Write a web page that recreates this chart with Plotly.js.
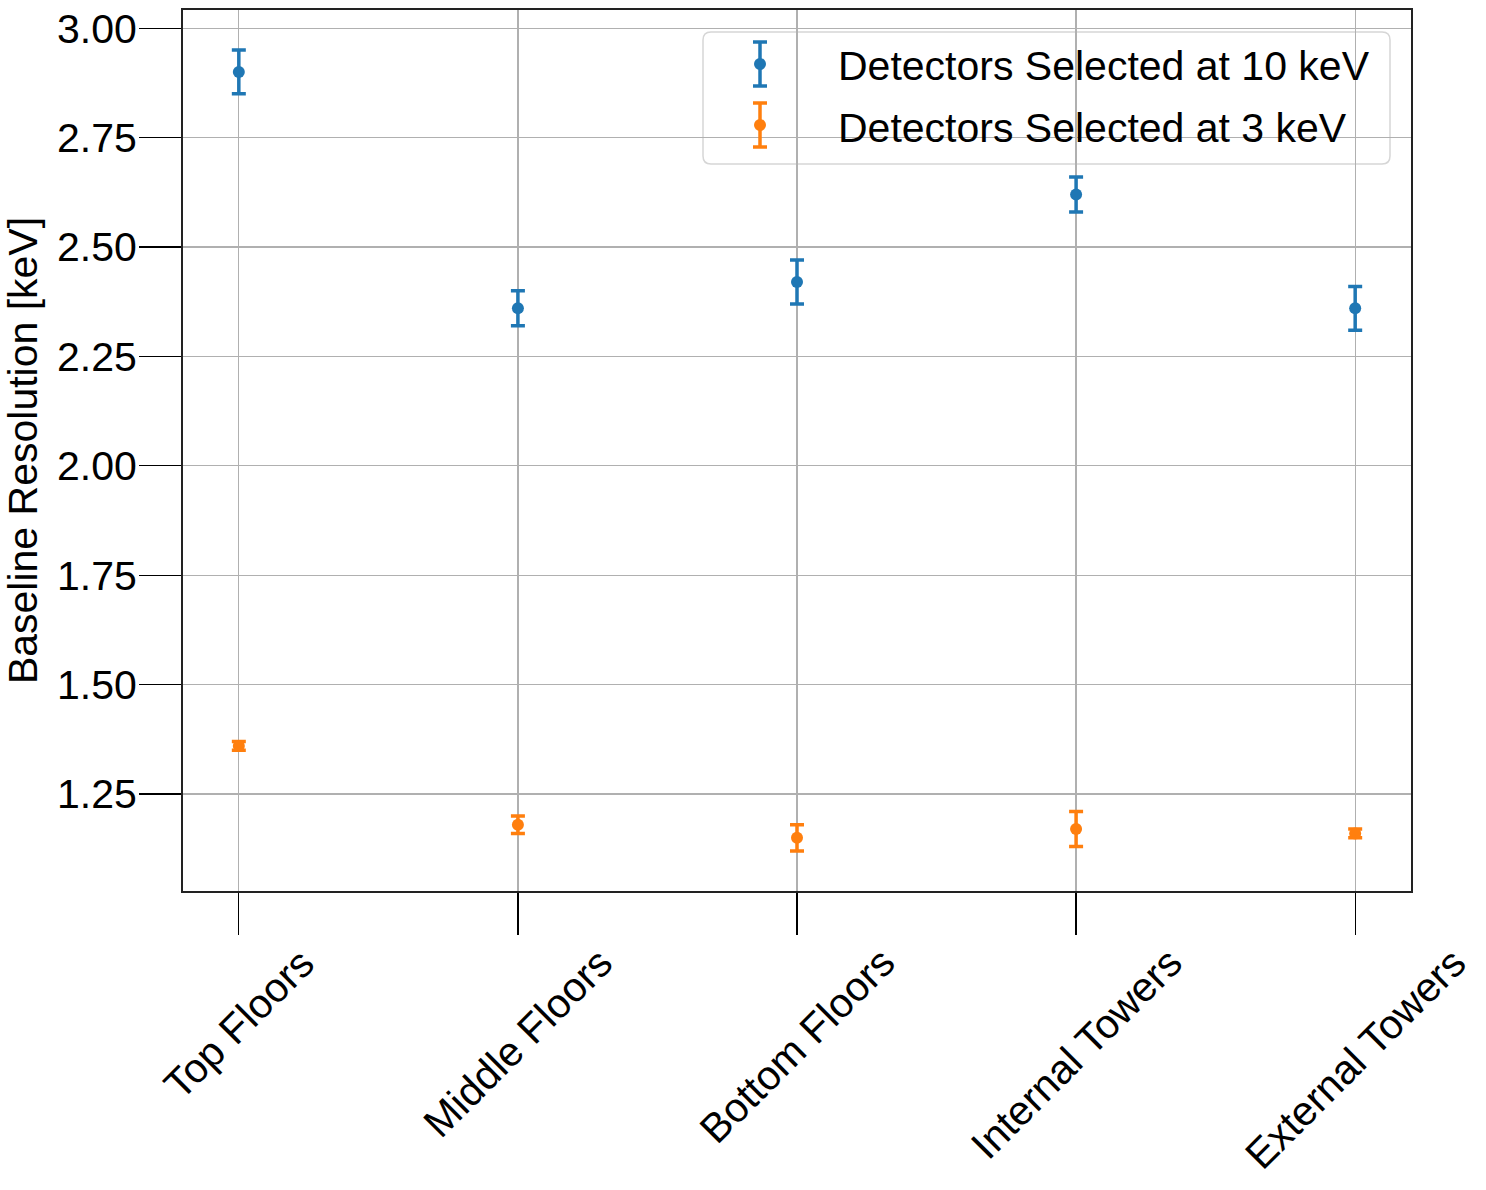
<!DOCTYPE html>
<html>
<head>
<meta charset="utf-8">
<script src="https://cdn.plot.ly/plotly-3.0.1.min.js"></script>
<style>
  body { margin: 0; background: #fff; }
  #chart { width: 1486px; height: 1190px; }
</style>
</head>
<body>
<div id="chart"></div>
<script>
// Baseline resolution per detector group

const categories = ["Top Floors", "Middle Floors", "Bottom Floors", "Internal Towers", "External Towers"];
const seriesNames = ["Detectors Selected at 10 keV", "Detectors Selected at 3 keV"];
const res10 = [2.90, 2.36, 2.42, 2.62, 2.36];
const err10 = [0.05, 0.04, 0.05, 0.04, 0.05];
const res3 = [1.36, 1.18, 1.15, 1.17, 1.16];
const err3 = [0.01, 0.02, 0.03, 0.04, 0.01];
const colors = ["#1f77b4", "#ff7f0e"];

const W = 1486, H = 1190;
const margin = { l: 183, r: 75, t: 10, b: 299 };
const plotW = W - margin.l - margin.r,
	plotH = H - margin.t - margin.b;

// pixel -> paper helpers (used for the hand-drawn legend only)
const px = (p) => (p - margin.l) / plotW;
const py = (p) => (H - margin.b - p) / plotH;

const FONT = "Liberation Sans, Arial, Helvetica, sans-serif";

function errTrace(y, err, name, color) {
	return {
		x: categories,
		y: y,
		type: "scatter",
		mode: "markers",
		name: name,
		marker: { color: color, size: 12 },
		error_y: { type: "data", array: err, visible: true, color: color, thickness: 3.5, width: 7 },
		showlegend: false,
	};
}

let data = [
		errTrace(res10, err10, seriesNames[0], colors[0]),
		errTrace(res3, err3, seriesNames[1], colors[1]),
	];

// x tick labels, rotated and centred under each tick like matplotlib
let annotations = categories.map((c) => ({
	x: c,
	xref: "x",
	y: 0,
	yref: "paper",
	yanchor: "top",
	xanchor: "center",
	yshift: -46,
	textangle: -45,
	showarrow: false,
	text: c,
	font: { family: FONT, size: 41, color: "#000" },
}));

// legend: rounded box, errorbar glyph, label
let shapes = [];
const bx0 = px(703), bx1 = px(1390), by0 = py(164), by1 = py(32);
const rx = 8 / plotW, ry = 8 / plotH;
shapes.push({
	type: "path",
	xref: "paper",
	yref: "paper",
	layer: "between",
	path:
		`M ${bx0 + rx},${by1} L ${bx1 - rx},${by1} Q ${bx1},${by1} ${bx1},${by1 - ry} ` +
		`L ${bx1},${by0 + ry} Q ${bx1},${by0} ${bx1 - rx},${by0} ` +
		`L ${bx0 + rx},${by0} Q ${bx0},${by0} ${bx0},${by0 + ry} ` +
		`L ${bx0},${by1 - ry} Q ${bx0},${by1} ${bx0 + rx},${by1} Z`,
	fillcolor: "rgba(255,255,255,0.8)",
	line: { color: "#d6d6d6", width: 1.5 },
});

seriesNames.forEach((name, i) => {
	const cx = 760,
		cy = 64 + 61 * i,
		half = 22,
		cap = 7,
		r = 6,
		col = colors[i];
	const ln = (x0, y0, x1, y1) => ({
		type: "line",
		xref: "paper",
		yref: "paper",
		layer: "above",
		x0: px(x0),
		y0: py(y0),
		x1: px(x1),
		y1: py(y1),
		line: { color: col, width: 3.5 },
	});
	shapes.push(ln(cx, cy - half, cx, cy + half));
	shapes.push(ln(cx - cap, cy - half, cx + cap, cy - half));
	shapes.push(ln(cx - cap, cy + half, cx + cap, cy + half));
	shapes.push({
		type: "circle",
		xref: "paper",
		yref: "paper",
		layer: "above",
		x0: px(cx - r),
		x1: px(cx + r),
		y0: py(cy + r),
		y1: py(cy - r),
		fillcolor: col,
		line: { width: 0 },
	});
	annotations.push({
		x: px(836),
		xref: "paper",
		y: py(66 + 62 * i),
		yref: "paper",
		xanchor: "left",
		yanchor: "middle",
		showarrow: false,
		text: name,
		font: { family: FONT, size: 41, color: "#000" },
	});
});

let layout = {
	width: W,
	height: H,
	margin: margin,
	paper_bgcolor: "#ffffff",
	plot_bgcolor: "#ffffff",
	showlegend: false,
	font: { family: FONT, size: 41, color: "#000" },
	xaxis: {
		type: "category",
		range: [-0.2, 4.2],
		showticklabels: false,
		ticks: "outside",
		ticklen: 42,
		tickwidth: 1.3,
		tickcolor: "#000",
		showgrid: true,
		gridcolor: "#b0b0b0",
		gridwidth: 1.2,
		showline: true,
		linecolor: "#222",
		linewidth: 2,
		mirror: true,
		zeroline: false,
	},
	yaxis: {
		range: [1.0285, 3.0415],
		tick0: 0,
		dtick: 0.25,
		tickformat: ".2f",
		ticks: "outside",
		ticklen: 42,
		tickwidth: 1.3,
		tickcolor: "#000",
		ticklabelstandoff: -6,
		tickfont: { family: FONT, size: 41, color: "#000" },
		showgrid: true,
		gridcolor: "#b0b0b0",
		gridwidth: 1.2,
		showline: true,
		linecolor: "#222",
		linewidth: 2,
		mirror: true,
		zeroline: false,
		title: { text: "Baseline Resolution [keV]", font: { family: FONT, size: 41, color: "#000" }, standoff: 10 },
	},
	annotations: annotations,
	shapes: shapes,
};

Plotly.newPlot("chart", data, layout, { staticPlot: true });
</script>
</body>
</html>
